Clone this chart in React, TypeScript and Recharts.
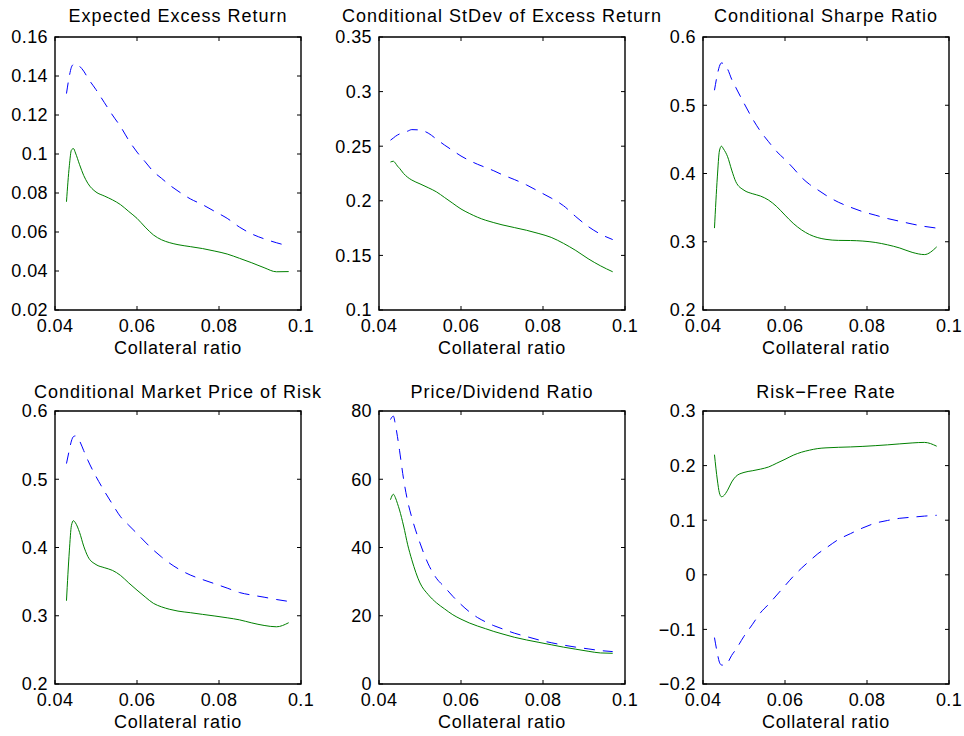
import React from 'react';
import { LineChart, Line, XAxis, YAxis, ReferenceArea } from 'recharts';

// collateral ratio grid shared by all six panels
const collateral = [0.0428, 0.0435, 0.044, 0.0445, 0.045, 0.046, 0.047, 0.048, 0.05, 0.052, 0.054, 0.056, 0.058, 0.06, 0.062, 0.064, 0.066, 0.068, 0.07, 0.073, 0.076, 0.079, 0.082, 0.085, 0.088, 0.091, 0.094, 0.097];

const excessDashed = [0.131, 0.14, 0.1445, 0.146, 0.1465, 0.145, 0.1425, 0.139, 0.133, 0.1265, 0.12, 0.114, 0.107, 0.101, 0.096, 0.091, 0.0875, 0.084, 0.081, 0.077, 0.074, 0.0705, 0.067, 0.0625, 0.059, 0.0565, 0.0545, 0.0528];
const excessSolid = [0.0755, 0.094, 0.102, 0.1028, 0.1005, 0.0945, 0.089, 0.085, 0.0805, 0.0785, 0.0765, 0.074, 0.0705, 0.067, 0.0625, 0.0585, 0.056, 0.0545, 0.0535, 0.0525, 0.0515, 0.0502, 0.0487, 0.0465, 0.0442, 0.0417, 0.0396, 0.0397];

const stdevDashed = [0.2555, 0.2575, 0.259, 0.2602, 0.2612, 0.2625, 0.2638, 0.2652, 0.2648, 0.262, 0.2565, 0.251, 0.246, 0.241, 0.237, 0.2335, 0.2305, 0.2275, 0.224, 0.2195, 0.2145, 0.2085, 0.2025, 0.1955, 0.1855, 0.1765, 0.1695, 0.1645];
const stdevSolid = [0.2355, 0.2362, 0.2345, 0.2318, 0.2298, 0.225, 0.2215, 0.219, 0.2155, 0.212, 0.2082, 0.203, 0.1977, 0.1925, 0.1885, 0.185, 0.1822, 0.18, 0.178, 0.1755, 0.173, 0.17, 0.1665, 0.161, 0.1545, 0.147, 0.1405, 0.135];

const sharpeDashed = [0.522, 0.545, 0.557, 0.562, 0.561, 0.553, 0.538, 0.526, 0.503, 0.481, 0.462, 0.4465, 0.432, 0.4205, 0.408, 0.3945, 0.384, 0.376, 0.368, 0.358, 0.3505, 0.344, 0.339, 0.334, 0.33, 0.326, 0.3225, 0.32];
const sharpeSolid = [0.32, 0.395, 0.433, 0.44, 0.436, 0.4246, 0.405, 0.388, 0.3755, 0.3705, 0.367, 0.361, 0.3514, 0.339, 0.327, 0.3175, 0.3105, 0.306, 0.3035, 0.302, 0.3018, 0.301, 0.299, 0.2955, 0.2908, 0.2845, 0.2812, 0.2925];

const mprDashed = [0.523, 0.543, 0.556, 0.5625, 0.5635, 0.556, 0.542, 0.528, 0.504, 0.483, 0.4635, 0.445, 0.4325, 0.4205, 0.408, 0.3963, 0.386, 0.3768, 0.369, 0.3597, 0.353, 0.3468, 0.3405, 0.334, 0.3303, 0.3272, 0.3238, 0.321];
const mprSolid = [0.322, 0.395, 0.432, 0.4393, 0.436, 0.422, 0.402, 0.387, 0.375, 0.3705, 0.3665, 0.359, 0.348, 0.3375, 0.3275, 0.3182, 0.313, 0.3094, 0.3068, 0.3045, 0.302, 0.2996, 0.297, 0.294, 0.2895, 0.2858, 0.2838, 0.2898];

const pdDashed = [77.5, 78.5, 76.0, 72.5, 68.5, 60.0, 53.5, 48.8, 41.3, 35.2, 31.0, 28.4, 25.7, 23.3, 21.2, 19.5, 18.2, 17.1, 16.2, 14.9, 13.9, 12.9, 12.1, 11.4, 10.8, 10.3, 9.8, 9.5];
const pdSolid = [54.0, 55.6, 54.6, 52.9, 51.0, 46.3, 40.8, 36.4, 29.6, 26.2, 23.8, 22.0, 20.3, 19.0, 17.9, 17.0, 16.2, 15.4, 14.7, 13.7, 12.9, 12.2, 11.5, 10.8, 10.2, 9.6, 9.1, 9.0];

const rfDashed = [-0.115, -0.1438, -0.16, -0.1652, -0.1655, -0.161, -0.1475, -0.137, -0.1125, -0.0915, -0.0697, -0.054, -0.037, -0.02, -0.003, 0.012, 0.0255, 0.0385, 0.049, 0.0645, 0.0755, 0.086, 0.0945, 0.0995, 0.1035, 0.1055, 0.1075, 0.109];
const rfSolid = [0.22, 0.1736, 0.15, 0.143, 0.1445, 0.155, 0.17, 0.18, 0.1875, 0.1905, 0.1935, 0.1975, 0.2045, 0.2115, 0.219, 0.2245, 0.2283, 0.2312, 0.2325, 0.2335, 0.2342, 0.2352, 0.2365, 0.238, 0.2398, 0.2415, 0.2425, 0.2355];

const xTicks = [0.04, 0.06, 0.08, 0.1];
const excessTicks = [0.02, 0.04, 0.06, 0.08, 0.1, 0.12, 0.14, 0.16];
const stdevTicks = [0.1, 0.15, 0.2, 0.25, 0.3, 0.35];
const sharpeTicks = [0.2, 0.3, 0.4, 0.5, 0.6];
const mprTicks = [0.2, 0.3, 0.4, 0.5, 0.6];
const pdTicks = [0, 20, 40, 60, 80];
const rfTicks = [-0.2, -0.1, 0, 0.1, 0.2, 0.3];

const titles = [
  'Expected Excess Return',
  'Conditional StDev of Excess Return',
  'Conditional Sharpe Ratio',
  'Conditional Market Price of Risk',
  'Price/Dividend Ratio',
  'Risk\u2212Free Rate',
];

const panels = [
  { dashed: excessDashed, solid: excessSolid, yTicks: excessTicks },
  { dashed: stdevDashed, solid: stdevSolid, yTicks: stdevTicks },
  { dashed: sharpeDashed, solid: sharpeSolid, yTicks: sharpeTicks },
  { dashed: mprDashed, solid: mprSolid, yTicks: mprTicks },
  { dashed: pdDashed, solid: pdSolid, yTicks: pdTicks },
  { dashed: rfDashed, solid: rfSolid, yTicks: rfTicks },
];

const FONT = '"Liberation Sans", Arial, Helvetica, sans-serif';
const TEXT = '#000';
const BOX_W = 246;
const BOX_H = 273;
const LEFT = 55;
const TOP = 37;
const BOTTOM = 55;
const RIGHT = 14;
const COL_STEP = 324;
const ROW_STEP = 374;
const TICK_LEN = 4;
const Y_MARGIN = 7;
const X_MARGIN = 9;
const TITLE_BASE = [22, 398];

const fmt = (v: number) => String(v).replace('-', '\u2212');

const YTick = ({ x, y, payload }: any) => {
  const ax = x + Y_MARGIN;
  return (
    <g>
      <line x1={ax} y1={y} x2={ax + TICK_LEN} y2={y} stroke="#000" />
      <line x1={ax + BOX_W} y1={y} x2={ax + BOX_W - TICK_LEN} y2={y} stroke="#000" />
      <text x={x} y={y} dy="0.36em" textAnchor="end" fontSize={18} letterSpacing={0.4} fontFamily={FONT} fill={TEXT}>
        {fmt(payload.value)}
      </text>
    </g>
  );
};

const XTick = ({ x, y, payload }: any) => {
  const by = y - X_MARGIN;
  return (
    <g>
      <line x1={x} y1={by} x2={x} y2={by - TICK_LEN} stroke="#000" />
      <line x1={x} y1={by - BOX_H} x2={x} y2={by - BOX_H + TICK_LEN} stroke="#000" />
      <text x={x} y={y} dy="0.72em" textAnchor="middle" fontSize={18} letterSpacing={0.4} fontFamily={FONT} fill={TEXT}>
        {fmt(payload.value)}
      </text>
    </g>
  );
};

function Panel({ idx }: { idx: number }) {
  const p = panels[idx];
  const col = idx % 3;
  const row = Math.floor(idx / 3);
  const rows = collateral.map((x, i) => ({ x, dashed: p.dashed[i], solid: p.solid[i] }));
  const lo = p.yTicks[0];
  const hi = p.yTicks[p.yTicks.length - 1];
  const width = LEFT + BOX_W + RIGHT;
  const height = TOP + BOX_H + BOTTOM;

  return (
    <div style={{ position: 'absolute', left: col * COL_STEP, top: row * ROW_STEP, width, height }}>
      <LineChart width={width} height={height} data={rows} margin={{ top: TOP, right: RIGHT, bottom: 0, left: 0 }}>
        <XAxis
          type="number"
          dataKey="x"
          domain={[0.04, 0.1]}
          ticks={xTicks}
          interval={0}
          height={BOTTOM}
          tickSize={0}
          tickMargin={X_MARGIN}
          axisLine={false}
          tickLine={false}
          tick={(t: any) => <XTick {...t} />}
          label={{
            value: 'Collateral ratio',
            position: 'insideBottom',
            offset: 11,
            fontSize: 18,
            letterSpacing: 0.75,
            fontFamily: FONT,
            fill: TEXT,
          }}
        />
        <YAxis
          type="number"
          domain={[lo, hi]}
          ticks={p.yTicks}
          interval={0}
          width={LEFT}
          tickSize={0}
          tickMargin={Y_MARGIN}
          axisLine={false}
          tickLine={false}
          tick={(t: any) => <YTick {...t} />}
        />
        <Line type="monotone" dataKey="dashed" stroke="#0000ff" strokeWidth={1} strokeDasharray="11 8" dot={false} isAnimationActive={false} />
        <Line type="monotone" dataKey="solid" stroke="#008000" strokeWidth={1} dot={false} isAnimationActive={false} />
        <ReferenceArea x1={0.04} x2={0.1} y1={lo} y2={hi} fill="none" stroke="#000" strokeWidth={1.4} />
      </LineChart>
    </div>
  );
}

export default function App() {
  return (
    <div style={{ position: 'absolute', left: 0, top: 0, width: 964, height: 736, background: '#fff', overflow: 'hidden' }}>
      {panels.map((_, i) => (
        <Panel key={i} idx={i} />
      ))}
      <svg width={964} height={736} style={{ position: 'absolute', left: 0, top: 0, pointerEvents: 'none' }}>
        {titles.map((t, i) => (
          <text
            key={t}
            x={(i % 3) * COL_STEP + LEFT + BOX_W / 2}
            y={TITLE_BASE[Math.floor(i / 3)]}
            textAnchor="middle"
            fontSize={18}
            letterSpacing={1.0}
            fontFamily={FONT}
            fill={TEXT}
          >
            {t}
          </text>
        ))}
      </svg>
    </div>
  );
}
